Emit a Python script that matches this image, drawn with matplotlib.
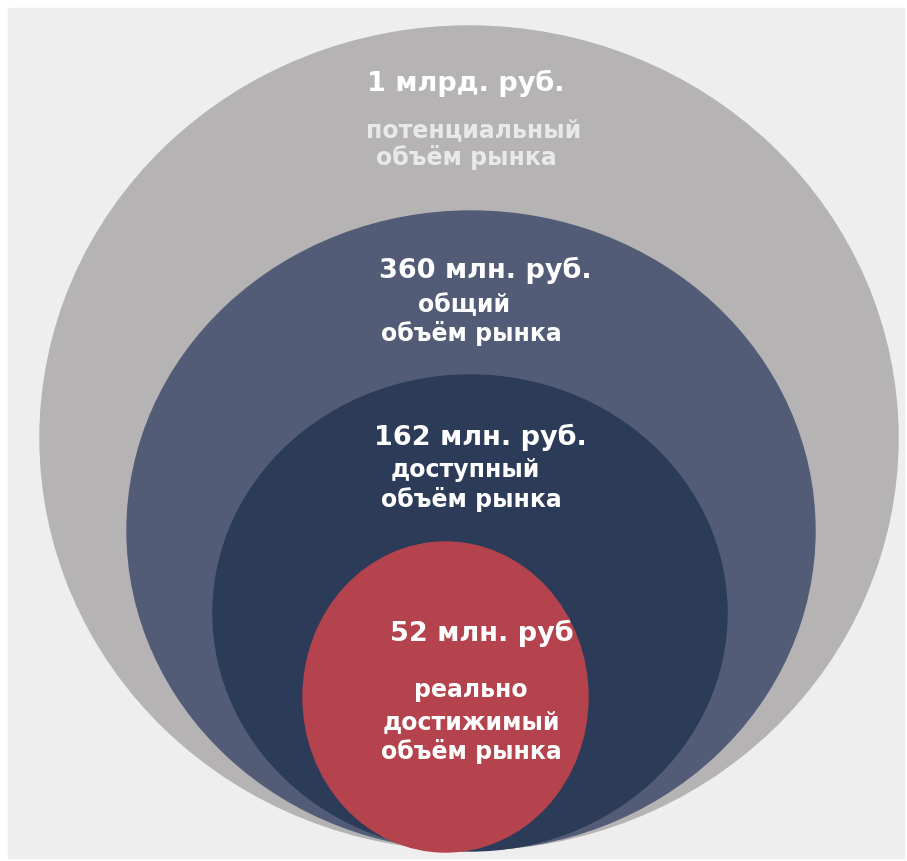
import matplotlib
matplotlib.use("Agg")
import matplotlib.pyplot as plt
from matplotlib.patches import Ellipse, Rectangle

plt.rcParams['font.family'] = ['DejaVu Sans']

# market sizes (TAM / SAM / SOM style nesting)
values = ["1 млрд. руб.", "360 млн. руб.", "162 млн. руб.", "52 млн. руб"]
captions = [
    ["потенциальный", "объём рынка"],
    ["общий", "объём рынка"],
    ["доступный", "объём рынка"],
    ["реально", "достижимый", "объём рынка"],
]
colors = ["#b5b3b4", "#525c77", "#2b3b58", "#b5434d"]

# ellipse boxes in pixels: left, right, top, bottom
boxes = [(40, 898, 26, 850), (127, 815, 211, 850), (213, 727, 375, 851), (303, 588, 542, 852)]
# text anchors: value line (x, y), caption lines (x, y) per line
value_pos = [(466, 83), (485, 270), (480, 437), (482, 633)]
cap_pos = [[(474, 130), (466, 158)],
           [(464, 305), (471, 333)],
           [(465, 470), (471, 500)],
           [(471, 690), (471, 722), (471, 752)]]
value_size = [19.5, 19.5, 19.5, 19.5]
cap_size = [17, 17, 17, 17]
cap_color = ["#e9e9e9", "white", "white", "white"]

W, H = 907, 861
fig = plt.figure(figsize=(W / 100, H / 100), dpi=100)
ax = fig.add_axes([0, 0, 1, 1])
ax.set_xlim(0, W)
ax.set_ylim(H, 0)
ax.axis("off")

ax.add_patch(Rectangle((8, 8), 896, 850, color="#eeeeee", zorder=0))

for i, (l, r, t, b) in enumerate(boxes):
    ax.add_patch(Ellipse(((l + r) / 2, (t + b) / 2), r - l, b - t,
                         color=colors[i], zorder=1 + i))

for i in range(len(values)):
    x, y = value_pos[i]
    ax.text(x, y, values[i], ha="center", va="center", color="white",
            fontsize=value_size[i], fontweight="bold", zorder=10)
    for line, (cx, cy) in zip(captions[i], cap_pos[i]):
        ax.text(cx, cy, line, ha="center", va="center", color=cap_color[i],
                fontsize=cap_size[i], fontweight="bold", zorder=10)

fig.savefig("out.png", dpi=100, facecolor="white")
